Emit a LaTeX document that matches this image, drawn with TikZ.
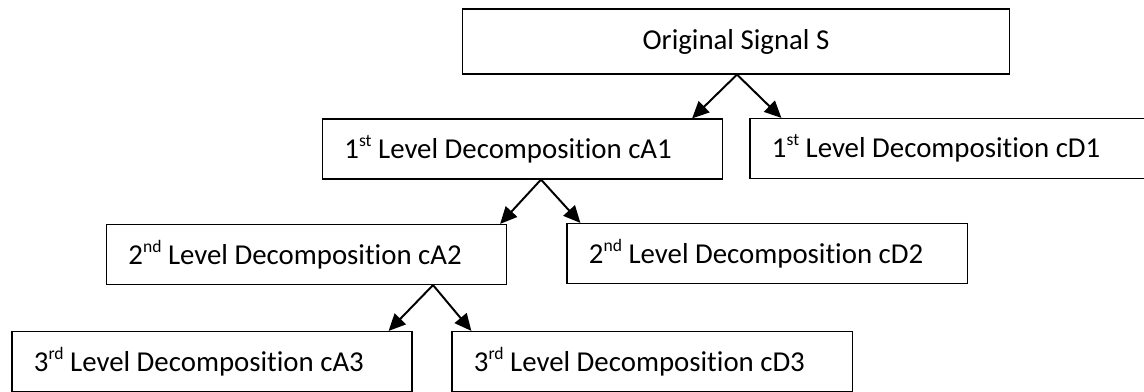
\documentclass[tikz,border=0pt]{standalone}
\usepackage{fontspec}
\setmainfont{Carlito}[Ligatures=NoCommon]
\usepackage{tikz}
\usetikzlibrary{arrows.meta}
\newcommand{\ordsup}[1]{\raisebox{0.42em}{\fontsize{12.5}{13}\selectfont #1}}

\begin{document}
\begin{tikzpicture}[x=0.025cm,y=-0.025cm,
    font=\fontsize{20.5}{24}\selectfont,
    box/.style={draw, line width=0.8pt, minimum height=1.5cm, inner ysep=0pt,
                inner xsep=0.55cm, text width=8.9cm, align=flush left},
    topbox/.style={draw, line width=0.8pt, minimum width=13.65cm, minimum height=1.625cm},
    arr/.style={line width=1.4pt, -{Triangle[length=12pt,width=11pt]}}]
		\useasboundingbox (0,0) rectangle (1144,392);
		\node[topbox] (sig) at (736,41.5) {Original Signal S};
		\node[box] (cA1) at (522.5,149) {1\ordsup{st} Level Decomposition cA1};
		\node[box] (cD1) at (950,148.5) {1\ordsup{st} Level Decomposition cD1};
		\node[box] (cA2) at (306.5,254.5) {2\ordsup{nd} Level Decomposition cA2};
		\node[box] (cD2) at (767,253.5) {2\ordsup{nd} Level Decomposition cD2};
		\node[box] (cA3) at (212,361.5) {3\ordsup{rd} Level Decomposition cA3};
		\node[box] (cD3) at (652,361.5) {3\ordsup{rd} Level Decomposition cD3};
		\draw[arr] ([xshift=0.025cm]sig.south) -- ([xshift=-0.775cm]cA1.north east);
		\draw[arr] ([xshift=0.025cm]sig.south) -- ([xshift=0.8cm]cD1.north west);
		\draw[arr] ([xshift=0.4625cm]cA1.south) -- ([xshift=-0.175cm]cA2.north east);
		\draw[arr] ([xshift=0.4625cm]cA1.south) -- ([xshift=0.35cm]cD2.north west);
		\draw[arr] ([xshift=3.1625cm]cA2.south) -- ([xshift=-0.6cm]cA3.north east);
		\draw[arr] ([xshift=3.1625cm]cA2.south) -- ([xshift=0.5cm]cD3.north west);
\end{tikzpicture}
\end{document}
